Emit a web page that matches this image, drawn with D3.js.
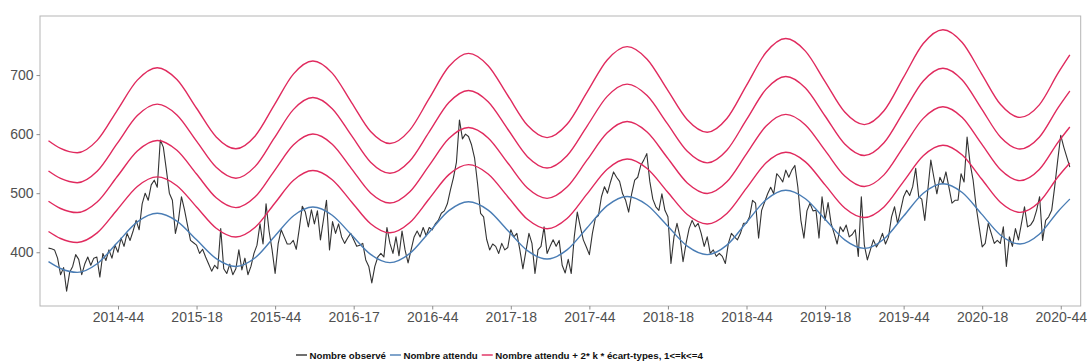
<!DOCTYPE html>
<html><head><meta charset="utf-8">
<script src="https://cdn.jsdelivr.net/npm/d3@7"></script>
<style>
  body { margin: 0; background: #fff; }
  svg { display: block; font-family: "Liberation Sans", Arial, sans-serif; }
</style>
</head><body>
<svg id="chart" width="1088" height="363"></svg>
<script>
// Weekly observed counts, one value per week starting at 2014-21 (week index 0)
const observed = [
  407, 406, 404, 390, 362, 374, 334, 366, 376, 396,
  388, 362, 380, 392, 378, 390, 392, 358, 398, 386,
  404, 390, 412, 400, 424, 410, 432, 420, 436, 454,
  438, 482, 500, 488, 514, 522, 510, 590, 578, 540,
  500, 488, 432, 454, 494, 472, 446, 420, 416, 412,
  398, 405, 392, 380, 368, 378, 372, 440, 372, 364,
  380, 362, 372, 404, 370, 390, 362, 376, 398, 412,
  448, 414, 482, 436, 404, 364, 414, 438, 426, 414,
  414, 420, 405, 440, 478, 468, 443, 472, 448, 470,
  421, 455, 488, 404, 452, 432, 448, 426, 415, 424,
  432, 421, 410, 412, 415, 387, 376, 348, 376, 392,
  398, 392, 442, 415, 398, 426, 394, 436, 404, 382,
  404, 426, 436, 426, 442, 428, 442, 438, 448, 454,
  466, 470, 482, 505, 526, 552, 624, 592, 600, 596,
  582, 560, 516, 466, 460, 422, 404, 414, 410, 398,
  415, 404, 408, 438, 426, 432, 404, 372, 402, 432,
  415, 364, 404, 410, 443, 398, 410, 421, 410, 420,
  378, 365, 388, 364, 426, 468, 443, 421, 409, 396,
  432, 458, 462, 494, 511, 500, 519, 536, 527, 520,
  499, 488, 468, 499, 522, 527, 547, 556, 567, 520,
  490, 477, 471, 499, 471, 460, 381, 426, 449, 426,
  384, 415, 440, 454, 443, 449, 432, 410, 426, 398,
  404, 393, 398, 393, 381, 415, 432, 426, 421, 432,
  449, 449, 460, 488, 483, 424, 471, 485, 499, 510,
  499, 533, 527, 519, 539, 527, 539, 547, 510, 454,
  424, 470, 483, 470, 471, 424, 494, 454, 484, 449,
  432, 414, 443, 435, 446, 426, 430, 438, 393, 494,
  412, 387, 404, 421, 409, 418, 432, 414, 426, 460,
  477, 449, 471, 494, 505, 496, 511, 542, 494, 490,
  454, 505, 556, 527, 499, 527, 516, 536, 510, 483,
  488, 488, 533, 519, 595, 550, 522, 477, 443, 409,
  415, 449, 432, 415, 420, 415, 443, 376, 426, 410,
  440, 421, 449, 477, 443, 446, 454, 471, 494, 420,
  454, 460, 471, 511, 556, 598, 578, 561, 544
];

// Expected count and standard deviation, sampled along the seasonal baseline
const knotWeeks = [
  0, 4, 9.5, 16.1, 22.75, 29.4, 36, 42.5, 49, 55.5,
  62, 68.4, 74.75, 81.1, 87.5, 93.9, 100.25, 106.6, 113, 119.5,
  126, 132.5, 139, 145.5, 152, 158.5, 165, 171.6, 178.25, 184.9,
  191.5, 198.1, 204.75, 211.4, 218, 224.5, 231, 237.5, 244, 250.5,
  257, 263.5, 270, 276.5, 283, 289.5, 296, 302.4, 308.75, 315.1,
  321.5, 327.9, 334.25, 338
];
const expected = [
  384, 372.5, 366, 380.6, 416, 451.4, 466, 452.8, 421, 389.2,
  376, 390.7, 426.3, 461.8, 476.5, 462.7, 429.5, 396.3, 382.5, 397.6,
  434, 470.4, 485.5, 471.3, 437, 402.7, 388.5, 404, 441.5, 479,
  494.5, 480.1, 445.3, 410.4, 396, 412, 450.5, 489, 505, 490.6,
  455.8, 420.9, 406.5, 422.5, 461.3, 500, 516, 501.1, 465, 428.9,
  414, 430.4, 470, 490
];
const stdDev = [
  25.6, 25.4, 25.3, 26.1, 28.05, 30.0, 30.8, 29.94, 27.85, 25.76,
  24.9, 25.78, 27.9, 30.02, 30.9, 30.07, 28.05, 26.03, 25.2, 26.1,
  28.3, 30.5, 31.4, 30.57, 28.55, 26.53, 25.7, 26.58, 28.7, 30.82,
  31.7, 30.85, 28.8, 26.75, 25.9, 26.8, 29.0, 31.2, 32.1, 31.24,
  29.15, 27.06, 26.2, 27.13, 29.4, 31.67, 32.6, 31.75, 29.7, 27.65,
  26.8, 27.4, 29.3, 30.5
];
// Alert thresholds: expected + 2 * k * standard deviation
const kValues = [1, 2, 3, 4];

const tickLabels = [
  "2014-44", "2015-18", "2015-44", "2016-17", "2016-44", "2017-18", "2017-44",
  "2018-18", "2018-44", "2019-18", "2019-44", "2020-18", "2020-44"
];
const yTicks = [400, 500, 600, 700];
const firstTickWeek = 23, tickStep = 26;

const legendItems = [
  { label: "Nombre observé", color: "#333333" },
  { label: "Nombre attendu", color: "#4a7db5" },
  { label: "Nombre attendu + 2* k * écart-types, 1<=k<=4", color: "#e02a5e" }
];

const svg = d3.select("#chart");
const panel = { left: 40, right: 1080.7, top: 16, bottom: 306 };

const x = d3.scaleLinear().domain([-2.81, 341.6]).range([panel.left, panel.right]);
const y = d3.scaleLinear().domain([309, 800]).range([panel.bottom, panel.top]);

// Panel border
svg.append("rect")
  .attr("x", panel.left).attr("y", panel.top)
  .attr("width", panel.right - panel.left).attr("height", panel.bottom - panel.top)
  .attr("fill", "none").attr("stroke", "#b5b5b5").attr("stroke-width", 1);

// Axes
const tickWeeks = tickLabels.map((_, i) => firstTickWeek + i * tickStep);
const xAxis = d3.axisBottom(x)
  .tickValues(tickWeeks)
  .tickFormat((d, i) => tickLabels[i])
  .tickSize(3.5).tickPadding(3);
const gx = svg.append("g").attr("transform", `translate(0,${panel.bottom})`).call(xAxis);

const yAxis = d3.axisLeft(y).tickValues(yTicks).tickSize(3.5).tickPadding(3);
const gy = svg.append("g").attr("transform", `translate(${panel.left},0)`).call(yAxis);

[gx, gy].forEach(g => {
  g.select(".domain").remove();
  g.selectAll(".tick line").attr("stroke", "#8c8c8c");
  g.selectAll(".tick text")
    .attr("fill", "#505050")
    .style("font-family", '"Liberation Sans", Arial, sans-serif')
    .style("font-size", "14px");
});

// Observed series
const obsLine = d3.line()
  .x((d, i) => x(i))
  .y(d => y(d));
svg.append("path")
  .datum(observed)
  .attr("fill", "none")
  .attr("stroke", legendItems[0].color)
  .attr("stroke-width", 1.1)
  .attr("stroke-linejoin", "round")
  .attr("d", obsLine);

// Expected baseline
const smooth = d3.line()
  .x(d => x(d[0]))
  .y(d => y(d[1]))
  .curve(d3.curveMonotoneX);
svg.append("path")
  .datum(knotWeeks.map((w, i) => [w, expected[i]]))
  .attr("fill", "none")
  .attr("stroke", legendItems[1].color)
  .attr("stroke-width", 1.4)
  .attr("d", smooth);

// Threshold curves
kValues.forEach(k => {
  svg.append("path")
    .datum(knotWeeks.map((w, i) => [w, expected[i] + 2 * k * stdDev[i]]))
    .attr("fill", "none")
    .attr("stroke", legendItems[2].color)
    .attr("stroke-width", 1.4)
    .attr("d", smooth);
});

// Legend
const legend = svg.append("g").attr("transform", "translate(296,355)");
let cursor = 0;
legendItems.forEach(item => {
  legend.append("line")
    .attr("x1", cursor).attr("x2", cursor + 11)
    .attr("y1", 0).attr("y2", 0)
    .attr("stroke", item.color).attr("stroke-width", 1.4);
  const t = legend.append("text")
    .attr("x", cursor + 13.5)
    .attr("y", 3.6)
    .attr("fill", "#111")
    .style("font-weight", "bold")
    .style("font-size", "9.7px")
    .text(item.label);
  cursor += 13.5 + t.node().getComputedTextLength() + 4;
});
</script>
</body></html>
